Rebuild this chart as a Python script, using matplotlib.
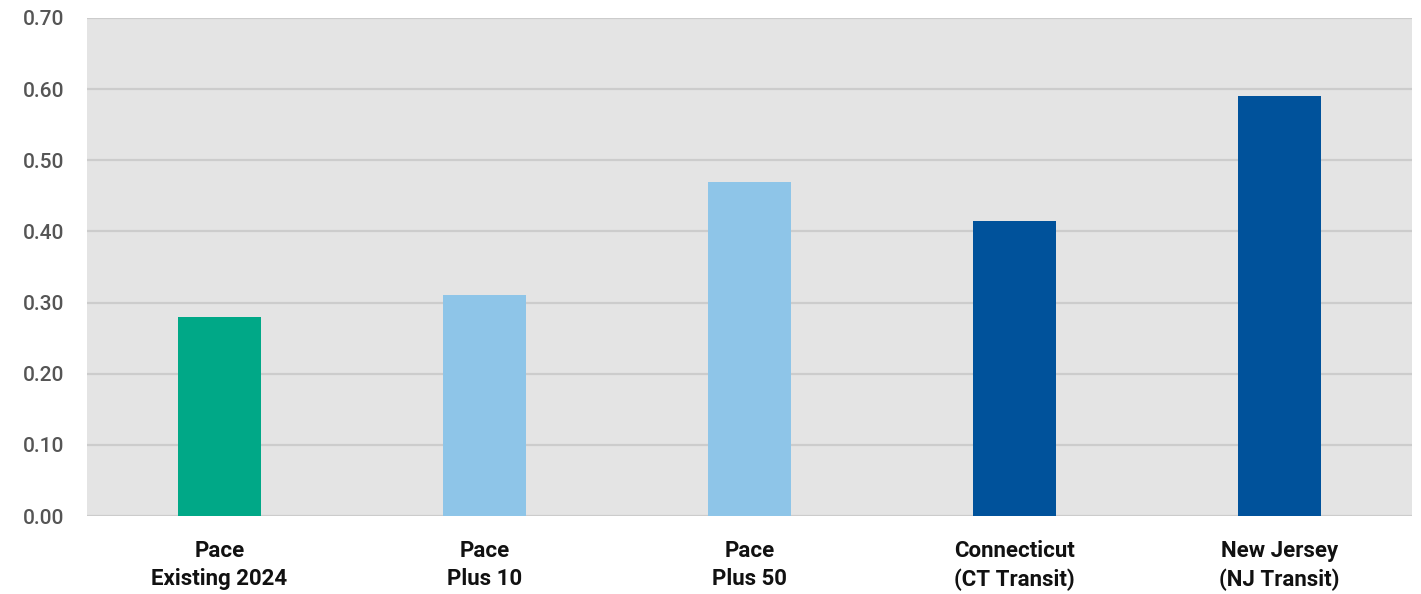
import matplotlib.pyplot as plt
import numpy as np

# data
categories = ["Pace\nExisting 2024", "Pace\nPlus 10", "Pace\nPlus 50",
              "Connecticut\n(CT Transit)", "New Jersey\n(NJ Transit)"]
values = [0.28, 0.31, 0.47, 0.415, 0.59]
bar_colors = ["#00a887", "#8ec5e8", "#8ec5e8", "#00529b", "#00529b"]
yticks = [0.0, 0.1, 0.2, 0.3, 0.4, 0.5, 0.6, 0.7]

plt.rcParams['font.family'] = ['Roboto', 'DejaVu Sans']

fig = plt.figure(figsize=(14.21, 5.94), dpi=100)
ax = fig.add_axes([0.0612, 0.1313, 0.9325, 0.8384])
ax.set_facecolor("#e4e4e4")

x = np.arange(len(categories))
ax.bar(x, values, width=0.313, color=bar_colors, zorder=3)

ax.set_xlim(-0.5, len(categories) - 0.5)
ax.set_ylim(0, 0.70)
ax.set_yticks(yticks)
ax.set_yticklabels([f"{v:.2f}" for v in yticks])
ax.set_xticks(x)
ax.set_xticklabels(categories, fontsize=16, fontweight="bold",
                   color="#111111", linespacing=1.4)

ax.tick_params(axis="y", length=0, pad=16, labelsize=15, labelcolor="#555555")
ax.tick_params(axis="x", length=0, pad=17)
for lab in ax.get_yticklabels():
    lab.set_fontweight("medium")

ax.grid(axis="y", color="#cccccc", linewidth=1.6, zorder=1)
for s in ax.spines.values():
    s.set_visible(False)

fig.savefig("out.png", dpi=100)
